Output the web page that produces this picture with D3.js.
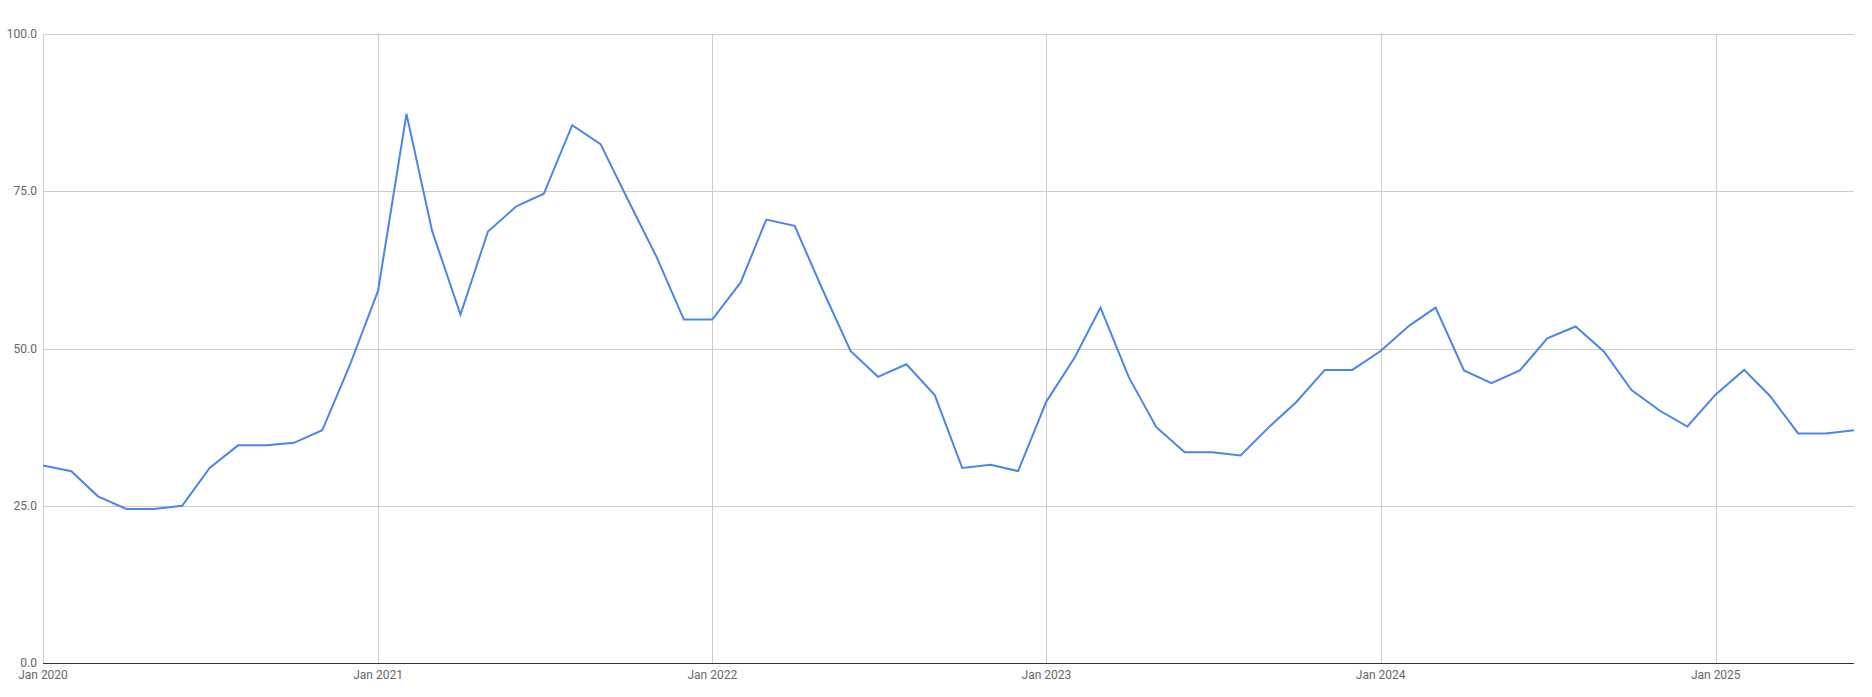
<!DOCTYPE html>
<html>
<head>
<meta charset="utf-8">
<script src="https://cdn.jsdelivr.net/npm/d3@7"></script>
<style>
  body { margin: 0; background: #fff; }
  svg text { font-family: Roboto, "Noto Sans", sans-serif; }
</style>
</head>
<body>
<svg id="chart"></svg>
<script>
// monthly values, Jan 2020 .. Jun 2025
const startMonth = "2020-01";
const values = [
  31.4, 30.5, 26.5, 24.5, 24.5, 25.0, 31.0, 34.6, 34.6, 35.0, 37.0, 47.3,
  59.2, 87.3, 68.7, 55.4, 68.6, 72.6, 74.6, 85.5, 82.5, 73.6, 64.6, 54.6,
  54.6, 60.5, 70.5, 69.5, 59.5, 49.6, 45.5, 47.5, 42.6, 31.0, 31.5, 30.5,
  41.6, 48.6, 56.5, 45.4, 37.5, 33.5, 33.5, 33.0, 37.5, 41.5, 46.6, 46.6,
  49.6, 53.6, 56.5, 46.5, 44.5, 46.5, 51.6, 53.5, 49.5, 43.4, 40.1, 37.6,
  42.7, 46.6, 42.5, 36.5, 36.5, 37.0
];
const yTicks = [0, 25, 50, 75, 100];
const xTickYears = [2020, 2021, 2022, 2023, 2024, 2025];

const width = 1872, height = 697;
const margin = { top: 34, right: 18, bottom: 34, left: 43 };

const parse = d3.timeParse("%Y-%m");
const start = parse(startMonth);
const data = values.map((v, i) => ({ date: d3.timeMonth.offset(start, i), value: v }));

const svg = d3.select('#chart')
  .attr('width', width)
  .attr('height', height);

const x = d3.scaleTime()
  .domain(d3.extent(data, d => d.date))
  .range([margin.left, width - margin.right]);

const y = d3.scaleLinear()
  .domain([0, 100])
  .range([height - margin.bottom, margin.top]);

// horizontal gridlines
svg.append('g')
  .selectAll('line')
  .data(yTicks.filter(t => t > 0))
  .enter()
  .append('line')
  .attr('x1', margin.left)
  .attr('x2', width - margin.right)
  .attr('y1', d => Math.round(y(d)) + 0.5)
  .attr('y2', d => Math.round(y(d)) + 0.5)
  .attr('stroke', '#cccccc');

// vertical gridlines at each January
const xTicks = xTickYears.map(yr => new Date(yr, 0, 1));
svg.append('g')
  .selectAll('line')
  .data(xTicks)
  .enter()
  .append('line')
  .attr('x1', d => Math.round(x(d)) + 0.5)
  .attr('x2', d => Math.round(x(d)) + 0.5)
  .attr('y1', margin.top)
  .attr('y2', height - margin.bottom)
  .attr('stroke', '#cccccc');

// baseline
svg.append('line')
  .attr('x1', margin.left)
  .attr('x2', width - margin.right)
  .attr('y1', Math.round(y(0)) + 0.5)
  .attr('y2', Math.round(y(0)) + 0.5)
  .attr('stroke', '#333333');

// y labels
svg.append('g')
  .selectAll('text')
  .data(yTicks)
  .enter()
  .append('text')
  .attr('x', margin.left - 6)
  .attr('y', d => y(d))
  .attr('dy', '0.35em')
  .attr('text-anchor', 'end')
  .attr('font-size', 12)
  .attr('fill', '#666666')
  .text(d => d3.format('.1f')(d));

// x labels
const fmt = d3.timeFormat('%b %Y');
svg.append('g')
  .selectAll('text')
  .data(xTicks)
  .enter()
  .append('text')
  .attr('x', d => x(d))
  .attr('y', y(0) + 16)
  .attr('text-anchor', 'middle')
  .attr('font-size', 12)
  .attr('fill', '#666666')
  .text(d => fmt(d));

const line = d3.line()
  .x(d => x(d.date))
  .y(d => y(d.value));

svg.append('path')
  .datum(data)
  .attr('d', line)
  .attr('fill', 'none')
  .attr('stroke', '#4a86e8')
  .attr('stroke-width', 2)
  .attr('stroke-linejoin', 'miter');
</script>
</body>
</html>
